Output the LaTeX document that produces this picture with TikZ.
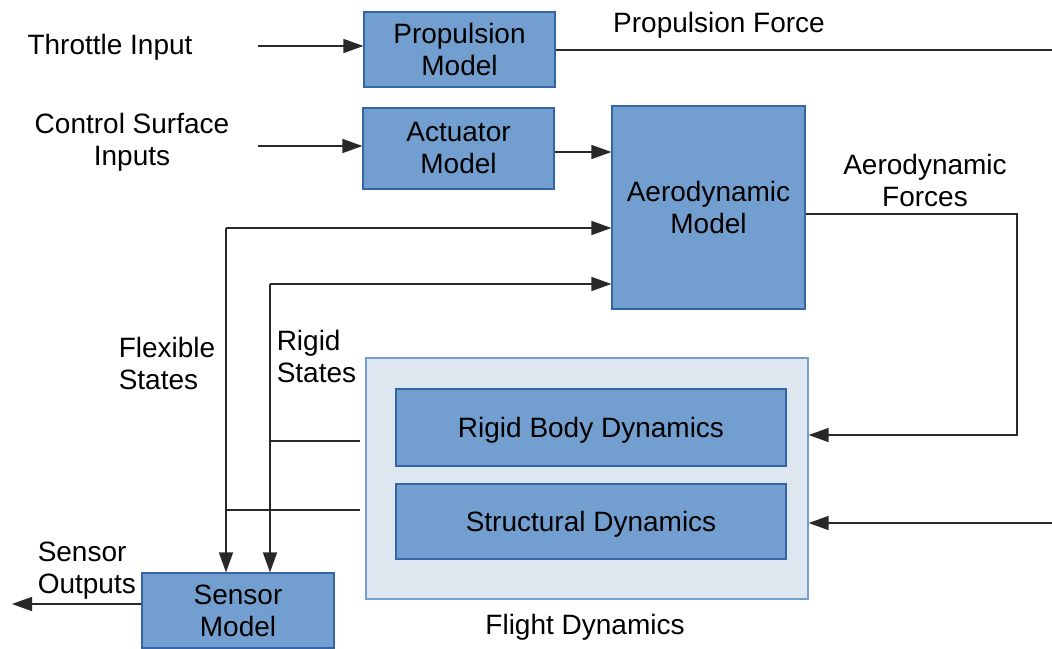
\documentclass[tikz,border=0pt]{standalone}
\usepackage{fontspec}
\setmainfont{Liberation Sans}
\usetikzlibrary{arrows.meta}

\definecolor{boxfill}{RGB}{114,159,207}
\definecolor{boxline}{RGB}{52,101,164}
\definecolor{grpfill}{RGB}{222,230,239}
\definecolor{wire}{RGB}{40,40,40}

\tikzset{every picture/.style={line width=0.75pt}}
\tikzset{
  block/.style={draw=boxline,fill=boxfill,line width=0.6pt,align=center,inner sep=0pt},
  group/.style={draw=boxfill,fill=grpfill,line width=0.6pt,inner sep=0pt},
  lbl/.style={inner sep=0pt,align=center},
  lbll/.style={inner sep=0pt,align=left,anchor=west},
  wirel/.style={draw=wire,line width=0.7pt},
  arr/.style={wirel,-{Triangle[length=10pt,width=7pt]}}
}

\begin{document}
\begin{tikzpicture}[x=0.5pt,y=0.5pt,yscale=-1,xscale=1,font=\fontsize{14}{16}\selectfont]
\useasboundingbox (0,0) rectangle (1052,648);

%Shape: Rectangle [Flight Dynamics group]
\node [group,minimum width=221pt,minimum height=120.5pt] (fd) at (587,478.5) {};
%Shape: Rectangle [blocks]
\node [block,minimum width=95.5pt,minimum height=37.5pt] (prop) at (459.5,49.5) {Propulsion\\Model};
\node [block,minimum width=95.5pt,minimum height=40.5pt] (act) at (458.5,148.5) {Actuator\\Model};
\node [block,minimum width=96.5pt,minimum height=101.5pt] (aero) at (708.5,207.5) {Aerodynamic\\Model};
\node [block,text depth=0pt,minimum width=195pt,minimum height=38.5pt] (rigid) at (591,427.5) {Rigid Body Dynamics};
\node [block,text depth=0pt,minimum width=195pt,minimum height=37.5pt] (struct) at (591,521.5) {Structural Dynamics};
\node [block,minimum width=96pt,minimum height=37.5pt] (sensor) at (238,610.5) {Sensor\\Model};

% Text Node
\node [lbl] (thrl) at (110,47) {Throttle Input};
\node [lbl] (csil) at (132,142) {Control Surface\\Inputs};
\node [lbl] (pfl) at (719,25) {Propulsion Force};
\node [lbl] (afl) at (925,180) {Aerodynamic\\Forces};
\node [lbll] (fxl) at (118,363) {Flexible\\States};
\node [lbll] (rgl) at (276,356) {Rigid\\States};
\node [lbll] (sol) at (37,571) {Sensor\\Outputs};
\node [lbl] (fdl) at (585,627) {Flight Dynamics};

% free ends of the connectors
\coordinate (thr) at (258,46);
\coordinate (csi) at (258,146);
\coordinate (pf) at (1052,50);
\coordinate (afr) at (1017,214);
\coordinate (afin) at (1017,435);
\coordinate (sin) at (1052,523);
\coordinate (fxo) at (360,510);
\coordinate (fxt) at (226,228);
\coordinate (rgo) at (360,441);
\coordinate (rgt) at (270,284);
\coordinate (so) at (12,604);

%Straight Lines [inputs]
\draw [arr] (thr) -- (thr -| prop.west);
\draw [arr] (csi) -- (csi -| act.west);
\draw [arr] (act.east |- 0,152) -- (aero.west |- 0,152);
\draw [wirel] (pf -| prop.east) -- (pf);
%Straight Lines [forces into flight dynamics]
\draw [arr] (afr -| aero.east) -- (afr) -- (afin) -- (afin -| fd.east);
\draw [arr] (sin) -- (sin -| fd.east);
%Straight Lines [flexible states]
\draw [wirel] (fxo) -- (fxo -| fxt);
\draw [arr] (fxt) -- (fxt -| aero.west);
\draw [arr] (fxt) -- (fxt |- sensor.north);
%Straight Lines [rigid states]
\draw [wirel] (rgo) -- (rgo -| rgt);
\draw [arr] (rgt) -- (rgt -| aero.west);
\draw [arr] (rgt) -- (rgt |- sensor.north);
%Straight Lines [sensor outputs]
\draw [arr] (sensor.west |- so) -- (so);

\end{tikzpicture}
\end{document}
